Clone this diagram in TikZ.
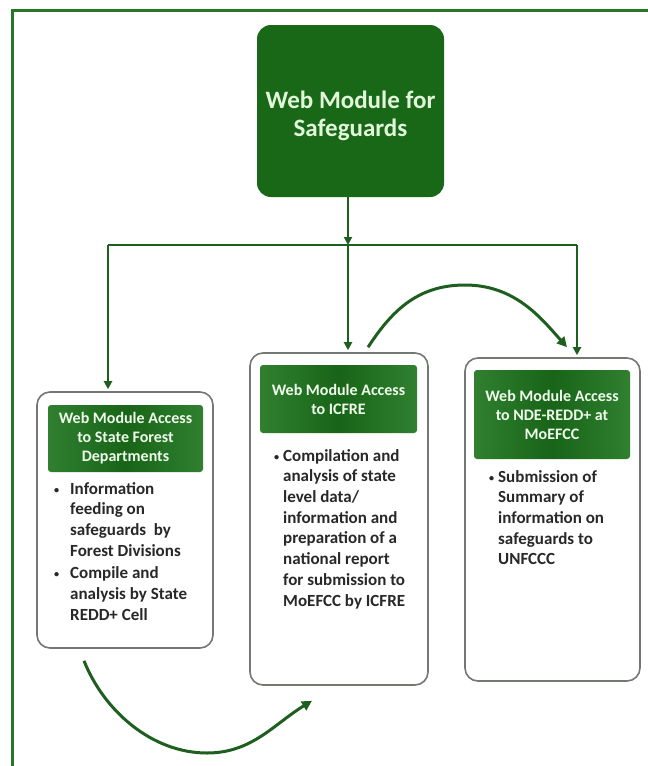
\documentclass[tikz,border=0pt]{standalone}
\usepackage{fontspec}
\setmainfont{Carlito}
\usetikzlibrary{arrows.meta,calc}
\definecolor{topgreen}{RGB}{24,104,24}
\definecolor{toptext}{RGB}{226,246,218}
\definecolor{hdrgreen}{RGB}{24,100,24}
\definecolor{hdredge}{RGB}{48,128,48}
\definecolor{hdrtext}{RGB}{240,252,236}
\definecolor{bodytext}{RGB}{40,40,40}
\definecolor{panelgray}{RGB}{115,120,115}
\definecolor{linegreen}{RGB}{30,94,30}
\definecolor{framegreen}{RGB}{40,118,40}
\newcommand{\bul}[1]{\llap{\raisebox{1pt}{\scalebox{0.6}{\textbullet}}\hspace{#1}}}
\begin{document}
\begin{tikzpicture}[x=1pt,y=-1pt,
  topbox/.style={fill=topgreen, rounded corners=14pt, minimum width=187pt, minimum height=172pt, inner sep=0pt},
  toplabel/.style={inner sep=0pt, align=center, text=toptext, font=\fontsize{25}{28}\selectfont\bfseries},
  panel/.style={draw=panelgray, line width=1.6pt, fill=white, rounded corners=13pt, inner sep=0pt},
  hdr/.style={left color=hdredge, right color=hdredge, middle color=hdrgreen, rounded corners=3pt,
    inner sep=0pt, align=center, text=hdrtext, font=\fontsize{16}{19}\selectfont\bfseries},
  body/.style={inner sep=0pt, align=left, anchor=north west, text=bodytext,
    font=\fontsize{17}{20.7}\selectfont\bfseries},
  conn/.style={draw=linegreen, line width=2pt},
  arr/.style={conn, -{Triangle[length=8pt,width=8pt]}},
  curv/.style={draw=linegreen, line width=3pt, -{Triangle[length=10pt,width=10pt]}},
  frame/.style={draw=framegreen, line width=3pt}
]
\useasboundingbox (0,0) rectangle (648,766);
\fill[white] (0,0) rectangle (648,766);
\draw[frame] (648,10) -- (12,10) -- (12,766);

\node[topbox] (top) at (350.5,111) {};
\node[toplabel] (toptxt) at ($(top.center)+(0,5)$) {Web Module for\\Safeguards};

\node[panel, minimum width=176pt, minimum height=256pt] (L) at (125,520) {};
\node[panel, minimum width=178pt, minimum height=332pt] (M) at (339,519) {};
\node[panel, minimum width=175pt, minimum height=323pt] (R) at (552.5,519.5) {};

\node[hdr, minimum width=155pt, minimum height=67pt] (LH) at (125.5,438.5) {Web Module Access\\to State Forest\\Departments};
\node[hdr, minimum width=157pt, minimum height=68pt] (MH) at (338.5,399) {Web Module Access\\to ICFRE};
\node[hdr, minimum width=156pt, minimum height=89pt] (RH) at (552,414.5) {Web Module Access\\to NDE-REDD+ at\\MoEFCC};

\node[body] (Ltxt) at (70,482) {\bul{11pt}Information\\feeding on\\safeguards\ \ by\\Forest Divisions\\[2pt]\bul{11pt}Compile and\\analysis by State\\REDD+ Cell};
\node[body] (Mtxt) at (283,449) {\bul{4pt}Compilation and\\analysis of state\\level data/\\information and\\preparation of a\\national report\\for submission to\\MoEFCC by ICFRE};
\node[body] (Rtxt) at (498,470) {\bul{4pt}Submission of\\Summary of\\information on\\safeguards to\\UNFCCC};

\coordinate (J) at (348,245);
\coordinate (JL) at (108,245);
\coordinate (JR) at (577,245);
\draw[arr] (top.south -| J) -- (J);
\draw[conn] (JL) -- (JR);
\draw[arr, shorten >=2pt] (JL) -- (JL |- L.north);
\draw[arr, shorten >=2pt] (J) -- (J |- M.north);
\draw[arr, shorten >=2pt] (JR) -- (JR |- R.north);

\coordinate (a1) at ($(M.north)+(29,-5)$);
\coordinate (a2) at ($(R.north)+(14.5,-10)$);
\draw[curv] (a1) .. controls (390,314) and (415,285) .. (465,285) .. controls (515,285) and (541,318) .. (a2);

\coordinate (b1) at ($(L.south)+(-41,12)$);
\coordinate (b2) at ($(M.south)+(-27,15)$);
\draw[curv] (b1) .. controls (104,711) and (152,753) .. (207,753) .. controls (252,753) and (274,724) .. (b2);
\end{tikzpicture}
\end{document}
